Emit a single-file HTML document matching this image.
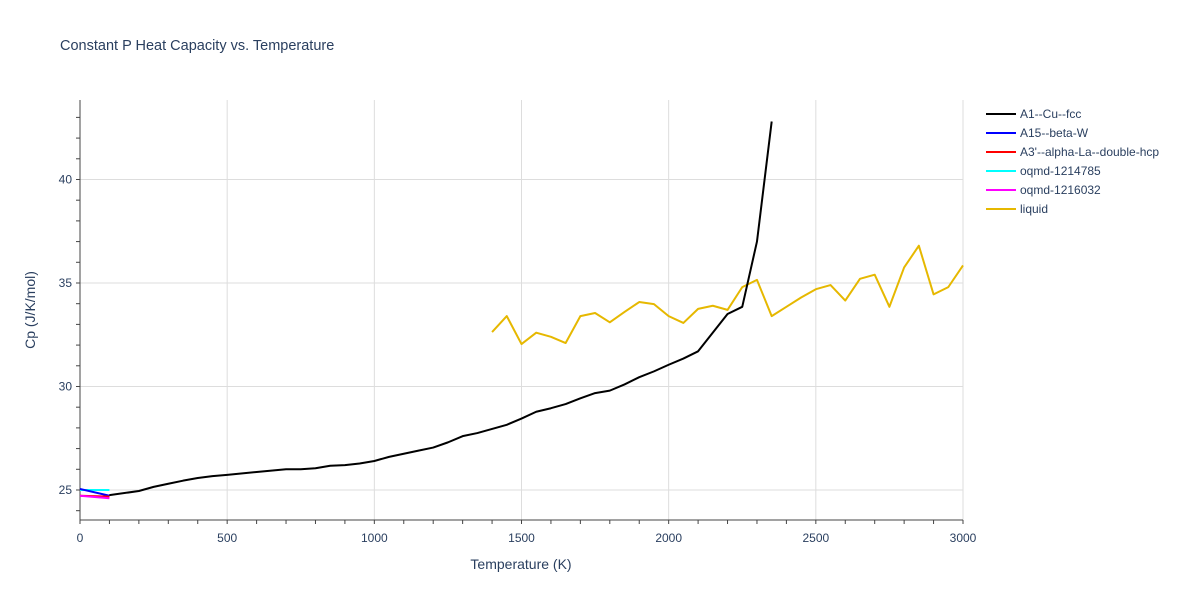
<!DOCTYPE html>
<html><head><meta charset="utf-8"><style>
body{margin:0;background:#fff;font-family:"Liberation Sans",sans-serif}
svg text{font-family:"Liberation Sans",sans-serif;fill:#2a3f5f}
</style></head><body>
<svg id="chart" width="1200" height="600" xmlns="http://www.w3.org/2000/svg">
<rect width="1200" height="600" fill="#fff"/>
<text x="60" y="50" font-size="14.5">Constant P Heat Capacity vs. Temperature</text>
<g id="grid"></g><g id="axes"></g><g id="series"></g><g id="legend"></g>
<text x="521" y="569" font-size="14" text-anchor="middle">Temperature (K)</text>
<text transform="translate(35,310) rotate(-90)" font-size="14" text-anchor="middle">Cp (J/K/mol)</text>
</svg>
<script>
const xTicks=[0,500,1000,1500,2000,2500,3000];
const yTicks=[25,30,35,40];
const names=["A1--Cu--fcc","A15--beta-W","A3'--alpha-La--double-hcp","oqmd-1214785","oqmd-1216032","liquid"];
const colors=["#000000","#0000ff","#ff0000","#00ffff","#ff00ff","#e6b800"];
const fccT=[100,200,250,300,350,400,450,500,600,700,750,800,850,900,950,1000,1050,1100,1150,1200,1250,1300,1350,1400,1450,1500,1550,1600,1650,1700,1750,1800,1850,1900,1950,2000,2050,2100,2150,2200,2250,2300,2350];
const fccCp=[24.75,24.95,25.15,25.3,25.45,25.58,25.67,25.73,25.87,26.0,26.0,26.05,26.17,26.2,26.28,26.4,26.6,26.75,26.9,27.05,27.3,27.6,27.75,27.95,28.15,28.45,28.78,28.95,29.15,29.43,29.68,29.8,30.1,30.45,30.73,31.05,31.35,31.7,32.6,33.5,33.85,37.0,42.8];
const smallT=[0,100];
const a15Cp=[25.05,24.72];
const a3Cp=[24.72,24.68];
const oq1Cp=[25.0,25.0];
const oq2Cp=[24.72,24.6];
const liqT=[1400,1450,1500,1550,1600,1650,1700,1750,1800,1850,1900,1950,2000,2050,2100,2150,2200,2250,2300,2350,2400,2450,2500,2550,2600,2650,2700,2750,2800,2850,2900,2950,3000];
const liqCp=[32.63,33.4,32.05,32.6,32.4,32.1,33.4,33.55,33.1,33.6,34.08,33.98,33.4,33.07,33.75,33.9,33.7,34.8,35.15,33.4,33.85,34.3,34.7,34.9,34.15,35.2,35.4,33.85,35.75,36.8,34.45,34.8,35.85];

const X0=80,X1=963,YT=100,YB=520,XMIN=0,XMAX=3000,YMIN=23.55,YMAX=43.84;
const sx=v=>X0+(v-XMIN)/(XMAX-XMIN)*(X1-X0);
const sy=v=>YB-(v-YMIN)/(YMAX-YMIN)*(YB-YT);
const NS="http://www.w3.org/2000/svg";
function mk(tag,parent,attrs){const e=document.createElementNS(NS,tag);for(const k in attrs)e.setAttribute(k,attrs[k]);parent.appendChild(e);return e;}
const grid=document.getElementById('grid'),axes=document.getElementById('axes'),ser=document.getElementById('series'),leg=document.getElementById('legend');
xTicks.forEach(t=>{
  if(t>0){const l=mk('line',grid,{x1:sx(t),x2:sx(t),y1:YT,y2:YB,stroke:'#ddd','stroke-width':1});
  
  }
  const tx=mk('text',axes,{x:sx(t),y:YB+22,'font-size':12,'text-anchor':'middle'});tx.textContent=t;
  
  
});
for(let t=0;t<=3000;t+=100){
  const tk=mk('line',axes,{x1:sx(t),x2:sx(t),y1:YB,y2:YB+4,stroke:'#444'});
  
  
}
for(let t=24;t<=43;t++){
  const tk=mk('line',axes,{x1:X0-4,x2:X0,y1:sy(t),y2:sy(t),stroke:'#444'});
  
  
}
yTicks.forEach(t=>{
  const l=mk('line',grid,{x1:X0,x2:X1,y1:sy(t),y2:sy(t),stroke:'#ddd','stroke-width':1});
  
  
  const tx=mk('text',axes,{x:X0-8,y:sy(t)+4,'font-size':12,'text-anchor':'end'});tx.textContent=t;
  
  
});
const xa=mk('line',axes,{x1:X0,x2:X1,y1:YB,y2:YB,stroke:'#444'});


const ya=mk('line',axes,{x1:X0,x2:X0,y1:YT,y2:YB,stroke:'#444'});


const data=[[fccT,fccCp],[smallT,a15Cp],[smallT,a3Cp],[smallT,oq1Cp],[smallT,oq2Cp],[liqT,liqCp]];
const order=[5,3,1,2,4,0];
order.forEach(i=>{
  const [xs,ys]=data[i];
  const p=mk('polyline',ser,{points:xs.map((x,j)=>sx(x)+','+sy(ys[j])).join(' '),fill:'none',stroke:colors[i],'stroke-width':2,'stroke-linejoin':'round'});
  
  
});
names.forEach((n,i)=>{
  const y=114+i*19;
  const g=mk('g',leg,{});
  
  
  mk('line',g,{x1:986,x2:1016,y1:y,y2:y,stroke:colors[i],'stroke-width':2});
  const t=mk('text',g,{x:1020,y:y+4,'font-size':12});t.textContent=n;
});
</script>
</body></html>
